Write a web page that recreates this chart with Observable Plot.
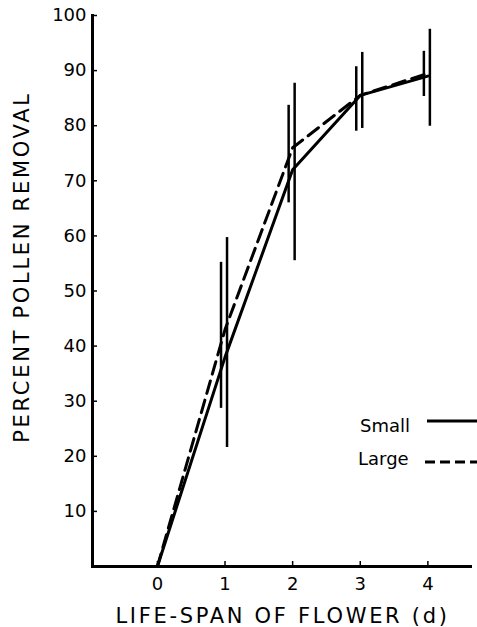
<!DOCTYPE html>
<html><head><meta charset="utf-8">
<script src="https://cdn.jsdelivr.net/npm/d3@7"></script>
<script src="https://cdn.jsdelivr.net/npm/@observablehq/plot@0.6"></script>
<style>
body{margin:0;background:#fff;}
#wrap{position:relative;width:477px;height:627px;font-family:"DejaVu Sans",sans-serif;}
#wrap svg.legend{position:absolute;left:0;top:0;}
</style></head><body><div id="wrap"></div>
<script>
const days = [0, 1, 2, 3, 4];
const smallMean = [0, 38, 72, 85.5, 89];
const largeMean = [0, 43, 76, 85.5, 89.5];
const smallLow  = [null, 21.6, 55.5, 79.5, 79.9];
const smallHigh = [null, 59.7, 87.7, 93.3, 97.5];
const largeLow  = [null, 28.7, 66, 79, 85.3];
const largeHigh = [null, 55.2, 83.7, 90.7, 93.5];
const xTicks = [0, 1, 2, 3, 4];
const yTicks = [10, 20, 30, 40, 50, 60, 70, 80, 90, 100];
const seriesNames = ["Small", "Large"];
const xLabel = "LIFE-SPAN OF FLOWER (d)";
const yLabel = "PERCENT POLLEN REMOVAL";

const small = days.map((d, i) => ({d, m: smallMean[i], lo: smallLow[i], hi: smallHigh[i]}));
const large = days.map((d, i) => ({d, m: largeMean[i], lo: largeLow[i], hi: largeHigh[i]}));
const FONT = '"DejaVu Sans", sans-serif';

const chart = Plot.plot({
  width: 477, height: 627,
  marginLeft: 92, marginRight: 5, marginTop: 15, marginBottom: 61,
  style: {fontFamily: FONT, color: "#000", background: "#fff"},
  x: {domain: [-0.96, 4.66]},
  y: {domain: [0, 100]},
  marks: [
    Plot.line(small, {x: "d", y: "m", stroke: "#000", strokeWidth: 3}),
    Plot.line(large, {x: "d", y: "m", stroke: "#000", strokeWidth: 3, strokeDasharray: "13,7"}),
    Plot.ruleX(small.filter(r => r.lo != null), {x: "d", y1: "lo", y2: "hi", dx: 2, stroke: "#000", strokeWidth: 2.5}),
    Plot.ruleX(large.filter(r => r.lo != null), {x: "d", y1: "lo", y2: "hi", dx: -4, stroke: "#000", strokeWidth: 2.5}),
    Plot.axisX(xTicks, {tickSize: 0, tickPadding: 11, fontSize: 18, label: null}),
    Plot.axisX(xTicks, {tickSize: -5, tickFormat: () => "", label: null, strokeWidth: 1.5}),
    Plot.axisY(yTicks, {tickSize: 0, tickPadding: 6, fontSize: 18, label: null}),
    Plot.axisY(yTicks, {tickSize: -5, tickFormat: () => "", label: null, strokeWidth: 1.5}),
    Plot.ruleY([0], {stroke: "#000", strokeWidth: 3}),
    Plot.frame({anchor: "left", stroke: "#000", strokeWidth: 3}),
    Plot.text([xLabel], {frameAnchor: "bottom", dy: 56, dx: 0, fontSize: 21, fill: "#000"}),
    Plot.text([yLabel], {frameAnchor: "left", textAnchor: "middle", rotate: -90, dx: -70, dy: -24, fontSize: 21, fill: "#000"})
  ]
});
document.getElementById("wrap").appendChild(chart);
d3.select(chart).selectAll("text").filter(function(){ return this.textContent === xLabel || this.textContent === yLabel; })
  .attr("letter-spacing", "2.7px");

// legend
const lg = d3.select("#wrap").append("svg").attr("class", "legend").attr("width", 477).attr("height", 627);
const legendRows = [
  {name: seriesNames[0], tx: 360, ty: 432, x1: 427, ly: 421, dash: null},
  {name: seriesNames[1], tx: 358, ty: 465, x1: 425, ly: 462, dash: "10,5"}
];
legendRows.forEach(r => {
  lg.append("text").attr("x", r.tx).attr("y", r.ty).attr("font-size", 18)
    .attr("font-family", FONT).text(r.name);
  const l = lg.append("line").attr("x1", r.x1).attr("x2", 477).attr("y1", r.ly).attr("y2", r.ly)
    .attr("stroke", "#000").attr("stroke-width", 3);
  if (r.dash) l.attr("stroke-dasharray", r.dash);
});
</script></body></html>
